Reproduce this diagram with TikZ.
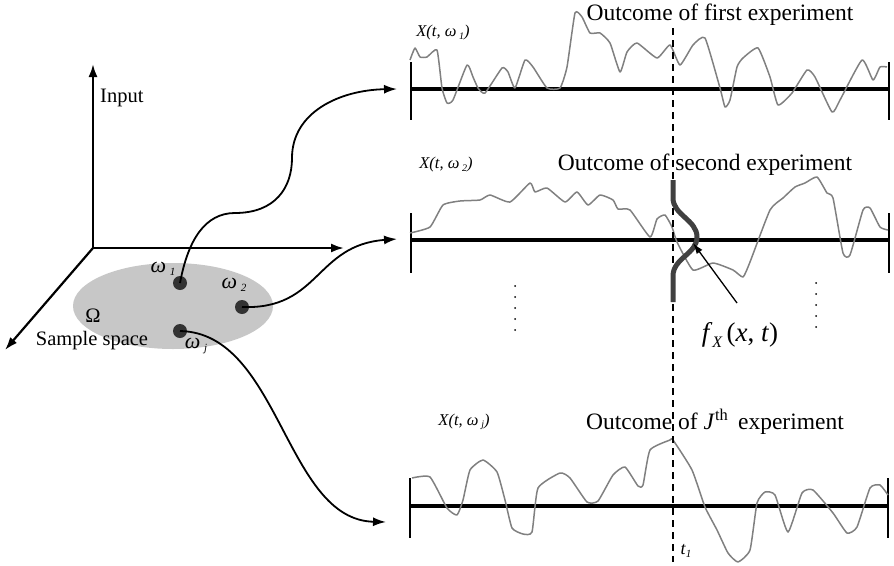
\documentclass[tikz,border=0pt]{standalone}
\usepackage{fontspec}
\setmainfont{Liberation Serif}
\usetikzlibrary{arrows.meta}
\newcommand\omlab[1]{{\itshape ω}\,\raisebox{-0.35ex}{\fontsize{11}{11}\selectfont\itshape #1}}
\newcommand\xlab[1]{\textit{X(t, ω}\,\raisebox{-0.35ex}{\fontsize{10}{10}\selectfont\itshape #1}\textit{)}}
\begin{document}
\begin{tikzpicture}[x=1pt,y=-1pt,
  axis/.style={line width=2.2pt,-{Latex[length=13pt,width=9pt]}},
  link/.style={line width=1.8pt,-{Latex[length=13pt,width=9pt]}},
  base/.style={line width=3.2pt},
  tickl/.style={line width=2.6pt},
  sig/.style={draw=gray, line width=1.5pt, line join=round},
  pdfc/.style={draw=black!75, line width=5pt},
  dotcol/.style={line width=2pt, line cap=round, dash pattern=on 0pt off 11pt},
  lbl/.style={inner sep=0pt, font=\fontsize{20.5}{24}\selectfont},
  big/.style={inner sep=0pt, font=\fontsize{23.5}{28}\selectfont},
  xl/.style={inner sep=0pt, font=\fontsize{16.5}{18}\selectfont},
  om/.style={inner sep=0pt, font=\fontsize{22}{24}\selectfont},
  dot/.style={circle, fill=black!80, inner sep=0pt, minimum size=14pt}
]
\useasboundingbox (0,0) rectangle (894,565);

% sample space
\fill[black!22] (173,306) ellipse [x radius=100, y radius=43];
\node[dot] (w1) at (180,283) {};
\node[dot] (w2) at (242,307) {};
\node[dot] (wj) at (180,331) {};
\node[om] (lw1) at (163,269) {\omlab{1}};
\node[om] (lw2) at (234,285) {\omlab{2}};
\node[om] (lwj) at (196,346) {\omlab{j}};
\node[lbl] (Om) at (93,316) {Ω};
\node[lbl] (ss) at (92,341) {Sample space};

% axes
\coordinate (O) at (93,248);
\coordinate (Oy) at (93,64);
\coordinate (Ox) at (344,248);
\coordinate (Oz) at (5,350);
\draw[axis] (O) -- (Oy);
\draw[axis] (O) -- (Ox);
\draw[axis] (O) -- (Oz);
\node[lbl, anchor=west] (inp) at (100,98) {Input};

% panel targets
\coordinate (p1) at (397,89);
\coordinate (p2) at (397,239);
\coordinate (p3) at (386,522);

% links
\draw[link] (w1.center) .. controls (188,240) and (205,213) .. (235,213)
  .. controls (275,213) and (292,188) .. (292,158)
  .. controls (292,112) and (340,90) .. (p1);
\draw[link] (w2.center) .. controls (320,310) and (315,245) .. (p2);
\draw[link] (wj.center) .. controls (280,333) and (285,520) .. (p3);

% panels
\draw[base] (411,89) -- (889,89);
\draw[tickl] (411,62) -- (411,120);
\draw[tickl] (889,62) -- (889,120);
\draw[base] (411,240) -- (889,240);
\draw[tickl] (411,213) -- (411,273);
\draw[tickl] (889,213) -- (889,273);
\draw[base] (410,506) -- (888,506);
\draw[tickl] (410,478) -- (410,538);
\draw[tickl] (888,478) -- (888,538);

% signals
\begin{scope}[shift={(400,0)}]
\draw[sig] plot[smooth, tension=0.3] coordinates {(10,60) (15,48) (20,57) (27,57) (37,50) (42,88) (47,103) (53,100) (67,65) (73,77) (78,88) (85,93) (102,68) (108,72) (115,88) (125,60) (133,67) (147,88) (160,88) (167,67) (175,13) (182,17) (190,33) (200,33) (210,43) (220,72) (227,52) (237,43) (257,58) (270,45) (280,65) (293,45) (305,38) (320,88) (325,107) (330,100) (337,67) (343,58) (358,48) (370,77) (378,105) (392,93) (407,70) (415,77) (432,112) (440,100) (462,60) (473,80) (480,67) (487,67)};
\end{scope}
\begin{scope}[shift={(400,130)}]
\draw[sig] plot[smooth, tension=0.3] coordinates {(10,103) (30,97) (43,75) (60,71) (80,70) (90,65) (110,72) (130,53) (135,62) (147,58) (165,72) (177,62) (188,75) (200,65) (213,70) (218,79) (230,80) (250,107) (257,89) (265,85) (272,97) (277,112) (293,140) (313,133) (333,140) (343,147) (350,132) (370,80) (383,68) (395,57) (405,53) (417,47) (427,63) (433,68) (443,123) (450,125) (463,80) (470,78) (480,97) (488,100)};
\end{scope}
\begin{scope}[shift={(380,380)}]
\draw[sig] plot[smooth, tension=0.3] coordinates {(32,98) (50,97) (67,128) (77,135) (83,120) (90,90) (103,80) (117,92) (125,120) (132,148) (143,154) (152,152) (158,108) (180,93) (190,98) (207,122) (218,121) (233,95) (245,87) (258,106) (263,105) (270,70) (290,60) (293,60) (312,90) (325,127) (337,150) (348,173) (358,182) (370,170) (377,123) (385,112) (395,115) (408,152) (422,113) (433,110) (453,133) (467,153) (477,147) (490,108) (500,105) (508,115)};
\end{scope}

% dashed time line
\coordinate (tt) at (673,28);
\coordinate (tb) at (673,562);
\draw[line width=1.5pt, dash pattern=on 7pt off 5pt] (tt) -- (tb);
\node[inner sep=0pt, font=\fontsize{18}{20}\selectfont] (t1) at (686,551) {\textit{t}\raisebox{-0.35ex}{\fontsize{11}{11}\selectfont\itshape 1}};

% pdf curve
\draw[pdfc] (673,180) -- (673,198) .. controls (673,215) and (697,220) .. (697,237)
  .. controls (697,254) and (673,258) .. (673,276) -- (673,302);
\node[inner sep=0pt, font=\fontsize{27}{30}\selectfont] (fx) at (740,335)
  {\textit{f}\raisebox{-0.45ex}{\fontsize{16}{16}\selectfont\itshape X}\,(\textit{x}, \textit{t})};
\coordinate (fxa) at (737,303);
\coordinate (fxb) at (693,243);
\draw[line width=1.3pt, -{Latex[length=11pt,width=7pt]}] (fxa) -- (fxb);

% dots columns
\draw[dotcol] (515,286) -- (515,341);
\draw[dotcol] (816,283) -- (816,338);

% labels
\node[xl] (x1) at (443,33) {\xlab{1}};
\node[xl] (x2) at (446,165) {\xlab{2}};
\node[xl] (x3) at (464,422) {\xlab{j}};
\node[big] (o1) at (720,15) {Outcome of first experiment};
\node[big] (o2) at (705,165) {Outcome of second experiment};
\node[big] (o3) at (715,422) {Outcome of \textit{J}\textsuperscript{th}\, experiment};
\end{tikzpicture}
\end{document}
